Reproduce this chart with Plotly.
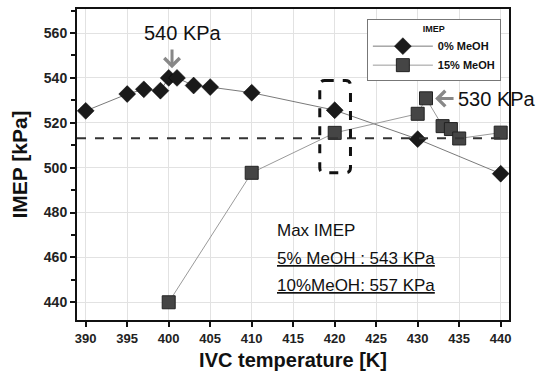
import plotly.graph_objects as go

# ---- data ----
temp_0 = [390, 395, 397, 399, 400, 401, 403, 405, 410, 420, 430, 440]
imep_0 = [525.3, 532.8, 534.9, 534.3, 540.0, 540.0, 536.6, 535.9, 533.4, 525.6, 512.7, 497.3]
temp_15 = [400, 410, 420, 430, 431, 433, 434, 435, 440]
imep_15 = [440.0, 497.7, 515.5, 524.0, 530.9, 518.5, 517.2, 513.0, 515.6]
ref_line = 513.1
x_ticks = [390, 395, 400, 405, 410, 415, 420, 425, 430, 435, 440]
y_ticks = [440, 460, 480, 500, 520, 540, 560]
box_x = [418.2, 421.9]
box_y = [497.7, 538.8]

FONT = "Liberation Sans, Arial, sans-serif"

fig = go.Figure()
fig.add_trace(go.Scatter(
    x=temp_0, y=imep_0, mode="lines+markers", name="0% MeOH",
    line=dict(color="#7a7a7a", width=1),
    marker=dict(symbol="diamond", size=13, color="#1a1a1a",
                line=dict(color="#000000", width=0.5)),
))
fig.add_trace(go.Scatter(
    x=temp_15, y=imep_15, mode="lines+markers", name="15% MeOH",
    line=dict(color="#9a9a9a", width=1),
    marker=dict(symbol="square", size=13, color="#454545",
                line=dict(color="#222222", width=1)),
))

# dashed reference line
fig.add_shape(type="line", xref="x domain", yref="y", x0=0, x1=1,
              y0=ref_line, y1=ref_line,
              line=dict(color="#333333", width=1.8, dash="dash"))

# rounded dashed box
x0, x1 = box_x
y0, y1 = box_y
rx, ry = 0.6, 2.2
path = (f"M {x0+rx},{y1} L {x1-rx},{y1} Q {x1},{y1} {x1},{y1-ry} "
        f"L {x1},{y0+ry} Q {x1},{y0} {x1-rx},{y0} L {x0+rx},{y0} "
        f"Q {x0},{y0} {x0},{y0+ry} L {x0},{y1-ry} Q {x0},{y1} {x0+rx},{y1} Z")
fig.add_shape(type="path", xref="x", yref="y", path=path,
              line=dict(color="#111111", width=3, dash="dash"))

# arrows and labels
fig.add_annotation(x=400.4, y=544.3, ax=400.4, ay=553.3, xref="x", yref="y",
                   axref="x", ayref="y", text="", showarrow=True,
                   arrowhead=4, arrowsize=1, arrowwidth=3, arrowcolor="#888888")
fig.add_annotation(x=401.7, y=560.0, text="540 KPa", showarrow=False,
                   font=dict(family=FONT, size=20, color="#111111"))
fig.add_annotation(x=432.1, y=530.8, ax=434.5, ay=530.8, xref="x", yref="y",
                   axref="x", ayref="y", text="", showarrow=True,
                   arrowhead=4, arrowsize=1, arrowwidth=3, arrowcolor="#888888")
fig.add_annotation(x=439.5, y=530.8, text="530 KPa", showarrow=False,
                   font=dict(family=FONT, size=20, color="#111111"))

for txt, yy in [("Max IMEP", 472.2), ("<u>5% MeOH : 543 KPa</u>", 459.6),
                ("<u>10%MeOH: 557 KPa</u>", 447.7)]:
    fig.add_annotation(x=412.8, y=yy, text=txt, showarrow=False,
                       xanchor="left", yanchor="middle",
                       font=dict(family=FONT, size=17, color="#111111"))

fig.update_layout(
    width=545, height=375,
    margin=dict(l=77, r=36, t=7, b=53),
    paper_bgcolor="white", plot_bgcolor="white",
    font=dict(family=FONT, color="#111111"),
    showlegend=True,
    legend=dict(
        x=0.671, y=0.968, xanchor="left", yanchor="top",
        bgcolor="white", bordercolor="#777777", borderwidth=1,
        font=dict(family=FONT, size=11, weight="bold", color="#111111"),
        title=dict(text="IMEP", side="top center",
                   font=dict(family=FONT, size=9, weight="bold")),
        tracegroupgap=0, itemwidth=60,
    ),
    xaxis=dict(
        range=[388.95, 441.0], tickvals=x_ticks,
        ticktext=[str(v) for v in x_ticks],
        showgrid=True, gridcolor="#e2e2e2", gridwidth=1,
        showline=True, linecolor="#111111", linewidth=2, mirror=True,
        ticks="outside", ticklen=5, tickwidth=1.5, tickcolor="#111111",
        tickfont=dict(family=FONT, size=13, weight="bold", color="#222222"),
        zeroline=False,
        title=dict(text="IVC temperature [K]", standoff=8,
                   font=dict(family=FONT, size=20, weight="bold", color="#111111")),
    ),
    yaxis=dict(
        range=[432.1, 570.7], tickvals=y_ticks,
        ticktext=[str(v) for v in y_ticks],
        showgrid=True, gridcolor="#e2e2e2", gridwidth=1,
        showline=True, linecolor="#111111", linewidth=2, mirror=True,
        ticks="outside", ticklen=5, tickwidth=1.5, tickcolor="#111111",
        tickfont=dict(family=FONT, size=14, weight="bold", color="#222222"),
        zeroline=False,
        minor=dict(dtick=10, tick0=430, ticks="outside", ticklen=4,
                   tickwidth=1.5, tickcolor="#111111", showgrid=False),
        title=dict(text="IMEP [kPa]", standoff=10,
                   font=dict(family=FONT, size=21, weight="bold", color="#111111")),
    ),
)

fig.write_html("out.html")
